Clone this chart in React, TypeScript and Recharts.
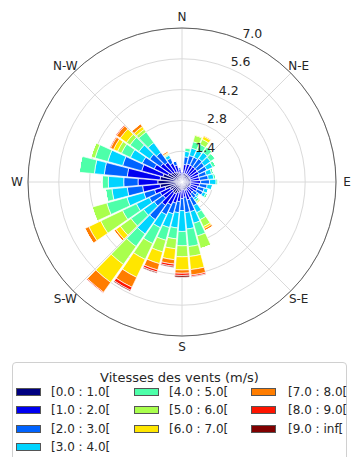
import React from 'react';
import { RadialBarChart, RadialBar, PolarAngleAxis, PolarRadiusAxis, PolarGrid } from 'recharts';

// Wind directions (degrees, clockwise from North), 36 sectors of 10°
const directions = [
  '0', '10', '20', '30', '40', '50', '60', '70', '80', '90', '100', '110',
  '120', '130', '140', '150', '160', '170', '180', '190', '200', '210', '220', '230',
  '240', '250', '260', '270', '280', '290', '300', '310', '320', '330', '340', '350',
];

// Frequency contribution of each speed class per direction
const speed0to1 = [0.3, 0.4, 0.4, 0.4, 0.4, 0.4, 0.4, 0.4, 0.4, 0.4, 0.4, 0.4, 0.4, 0.35, 0.35, 0.4, 0.4, 0.35, 0.35, 0.45, 0.5, 0.6, 0.6, 0.55, 0.6, 0.8, 1.0, 1.1, 1.0, 0.9, 0.7, 0.6, 0.55, 0.5, 0.45, 0.4];
const speed1to2 = [0.15, 0.4, 0.45, 0.45, 0.45, 0.45, 0.45, 0.4, 0.4, 0.45, 0.4, 0.35, 0.35, 0.3, 0.3, 0.4, 0.45, 0.35, 0.4, 0.45, 0.5, 0.55, 0.7, 0.5, 0.5, 0.5, 0.8, 0.9, 1.5, 1.0, 0.7, 0.6, 0.55, 0.45, 0.35, 0.2];
const speed2to3 = [0.05, 0.35, 0.4, 0.4, 0.45, 0.4, 0.4, 0.35, 0.4, 0.4, 0.35, 0.3, 0.3, 0.2, 0.25, 0.4, 0.55, 0.7, 0.55, 0.5, 0.5, 0.5, 0.8, 0.5, 0.55, 0.5, 0.7, 0.65, 1.05, 0.9, 0.6, 0.6, 0.55, 0.25, 0.2, 0.1];
const speed3to4 = [0, 0.25, 0.35, 0.35, 0.35, 0.35, 0.3, 0.25, 0.25, 0.3, 0.25, 0.2, 0.15, 0.1, 0.1, 0.35, 0.55, 0.75, 0.95, 0.7, 0.65, 0.65, 0.8, 0.6, 0.65, 0.8, 0.7, 0.7, 0.45, 0.7, 0.6, 0.6, 0.55, 0.15, 0, 0];
const speed4to5 = [0, 0.15, 0.3, 0.3, 0.3, 0.25, 0.15, 0.1, 0.1, 0.1, 0, 0, 0.1, 0.05, 0.1, 0.35, 0.6, 0.8, 0.65, 0.5, 0.6, 0.8, 0.7, 0.7, 0.7, 0.95, 0.3, 0.3, 0.7, 0.6, 0.45, 0.5, 0.6, 0.05, 0, 0];
const speed5to6 = [0, 0.05, 0.3, 0.25, 0, 0, 0, 0, 0, 0, 0, 0, 0, 0, 0.05, 0.35, 0.6, 0.45, 0.5, 0.45, 0.55, 0.8, 1.0, 0.6, 1.1, 0.7, 0, 0, 0, 0.2, 0.2, 0.2, 0.15, 0.03, 0, 0];
const speed6to7 = [0, 0, 0.05, 0.15, 0, 0, 0, 0, 0, 0, 0, 0, 0, 0, 0.05, 0.1, 0, 0.6, 0.6, 0.5, 0.55, 0.9, 1.0, 0.25, 0.6, 0, 0, 0, 0, 0, 0.2, 0.35, 0.15, 0.04, 0, 0];
const speed7to8 = [0, 0, 0, 0.05, 0, 0, 0, 0, 0, 0, 0, 0, 0, 0, 0, 0.1, 0, 0.25, 0.15, 0.2, 0.3, 0.5, 0.55, 0.1, 0.2, 0, 0, 0, 0, 0, 0.15, 0.2, 0.15, 0.08, 0, 0];
const speed8to9 = [0, 0, 0, 0, 0, 0, 0, 0, 0, 0, 0, 0, 0, 0, 0, 0, 0, 0.07, 0.1, 0.1, 0.1, 0.15, 0.05, 0, 0, 0, 0, 0, 0, 0, 0.05, 0.05, 0, 0, 0, 0];
const speed9toInf = [0, 0, 0, 0, 0, 0, 0, 0, 0, 0, 0, 0, 0, 0, 0, 0, 0, 0.03, 0.08, 0.05, 0.05, 0.05, 0, 0, 0, 0, 0, 0, 0, 0, 0, 0, 0, 0, 0, 0];

const speedLabels = [
  '[0.0 : 1.0[', '[1.0 : 2.0[', '[2.0 : 3.0[', '[3.0 : 4.0[', '[4.0 : 5.0[',
  '[5.0 : 6.0[', '[6.0 : 7.0[', '[7.0 : 8.0[', '[8.0 : 9.0[', '[9.0 : inf[',
];
const speedSeries = [speed0to1, speed1to2, speed2to3, speed3to4, speed4to5, speed5to6, speed6to7, speed7to8, speed8to9, speed9toInf];

const radiusTicks = [1.4, 2.8, 4.2, 5.6, 7.0];
const compassBearings = [0, 45, 90, 135, 180, 225, 270, 315];
const compassLabels = ['N', 'N-E', 'E', 'S-E', 'S', 'S-W', 'W', 'N-W'];

// jet colormap, 10 classes
const colors = ['#000080', '#0000f1', '#0063ff', '#00d4ff', '#4dffa9', '#a9ff4d', '#ffe600', '#ff7d00', '#ff1400', '#800000'];

const data = directions.map((dir, i) => {
  const row: Record<string, any> = { dir };
  speedSeries.forEach((s, k) => {
    row['b' + k] = s[i];
  });
  return row;
});

// layout
const CX = 182;
const CY = 182;
const OUTER = 154;
const LABEL_R = 165;
const SECTOR = 10;

const FONT = '"DejaVu Sans", Verdana, sans-serif';

const RadiusTick = (props: any) => {
  const { x, y, payload } = props;
  return (
    <text x={x + 1.5} y={y - 2} textAnchor="start" fontSize={12.5} fill="#262626" fontFamily={FONT}>
      {Number(payload.value).toFixed(1)}
    </text>
  );
};

// Draws the compass labels that fall inside this direction sector
const CompassTick = (props: any) => {
  const { payload } = props;
  const dirDeg = Number(payload.value);
  const items = compassBearings
    .map((b, i) => ({ b, label: compassLabels[i] }))
    .filter(({ b }) => b >= dirDeg - SECTOR / 2 && b < dirDeg + SECTOR / 2);
  if (!items.length) return <g />;
  return (
    <g>
      {items.map(({ b, label }) => {
        const rad = ((90 - b) * Math.PI) / 180;
        const x = CX + LABEL_R * Math.cos(rad);
        const y = CY - LABEL_R * Math.sin(rad);
        return (
          <text key={label} x={x} y={y} dy="0.36em" textAnchor="middle" fontSize={12} fill="#262626" fontFamily={FONT}>
            {label}
          </text>
        );
      })}
    </g>
  );
};

const legendColumns = [[0, 1, 2, 3], [4, 5, 6], [7, 8, 9]];
const colSwatchLeft = [3, 121, 238];
const colTextLeft = [38, 156, 275];

export default function App() {
  return (
    <div style={{ position: 'relative', width: 352, height: 457, overflow: 'hidden', background: '#fff', fontFamily: FONT }}>
      <style>{`body{margin:0;overflow:hidden;}`}</style>
      <div style={{ position: 'absolute', left: 0, top: 0 }}>
        <RadialBarChart
          width={352}
          height={360}
          data={data}
          cx={CX}
          cy={CY}
          innerRadius={0}
          outerRadius={OUTER}
          startAngle={85}
          endAngle={-275}
          layout="centric"
          barCategoryGap="6%"
          margin={{ top: 0, right: 0, bottom: 0, left: 0 }}
        >
          <PolarGrid gridType="circle" polarAngles={compassBearings.map((b) => 90 - b)} stroke="#dadada" strokeWidth={1} />
          {speedSeries.map((_, k) => (
            <RadialBar
              key={k}
              dataKey={'b' + k}
              stackId="s"
              fill={colors[k]}
              stroke="#ffffff"
              strokeWidth={0.7}
              isAnimationActive={false}
            />
          ))}
          <PolarAngleAxis
            dataKey="dir"
            type="category"
            tick={<CompassTick />}
            tickLine={false}
            axisLineType="circle"
            axisLine={{ stroke: '#5f5f5f', strokeWidth: 1 }}
          />
          <PolarRadiusAxis
            type="number"
            domain={[0, 7]}
            ticks={radiusTicks}
            angle={67.5}
            axisLine={false}
            tickLine={false}
            tick={<RadiusTick />}
          />
        </RadialBarChart>
      </div>
      <div
        style={{
          position: 'absolute',
          left: 12,
          top: 362,
          width: 335,
          height: 110,
          border: '1px solid #d0d0d0',
          borderRadius: 4,
          background: '#fff',
          boxSizing: 'border-box',
          color: '#262626',
        }}
      >
        <div style={{ position: 'absolute', left: 0, right: 0, top: 7, textAlign: 'center', fontSize: 13, lineHeight: '16px' }}>
          Vitesses des vents (m/s)
        </div>
        {legendColumns.map((col, c) =>
          col.map((k, r) => (
            <React.Fragment key={k}>
              <div
                style={{
                  position: 'absolute',
                  left: colSwatchLeft[c],
                  top: 25 + r * 18.3,
                  width: 25,
                  height: 8,
                  background: colors[k],
                  border: '1px solid #555',
                  boxSizing: 'border-box',
                }}
              />
              <div
                style={{
                  position: 'absolute',
                  left: colTextLeft[c],
                  top: 20 + r * 18.3,
                  fontSize: 12,
                  lineHeight: '18px',
                  whiteSpace: 'nowrap',
                }}
              >
                {speedLabels[k]}
              </div>
            </React.Fragment>
          ))
        )}
      </div>
    </div>
  );
}
